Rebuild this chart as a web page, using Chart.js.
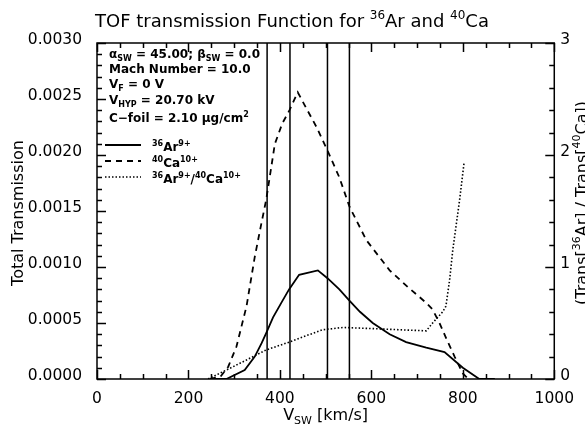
<!DOCTYPE html>
<html>
<head>
<meta charset="utf-8">
<script src="https://cdn.jsdelivr.net/npm/chart.js@4.4.1/dist/chart.umd.min.js"></script>
<style>
  html, body { margin: 0; padding: 0; background: #fff; }
  canvas { display: block; }
</style>
</head>
<body>
<canvas id="myChart" width="585" height="430" style="width:585px;height:430px"></canvas>
<script>
// 36Ar 9+ transmission (solid)
var arVel   = [250, 283, 323, 345, 360, 370, 385, 403, 420, 442, 483, 504, 530, 552, 575, 603, 640, 676, 720, 760, 800, 836, 870];
var arTrans = [0, 0, 0.00008, 0.0002, 0.00032, 0.00041, 0.00055, 0.00068, 0.0008, 0.00093, 0.00097, 0.0009, 0.0008, 0.0007, 0.0006, 0.0005, 0.0004, 0.00033, 0.00028, 0.00024, 0.0001, 0, 0];

// 40Ca 10+ transmission (dashed)
var caVel   = [247, 270, 287, 305, 327, 345, 360, 370, 389, 405, 421, 439, 460, 480, 504, 530, 552, 589, 640, 680, 720, 734, 749, 765, 782, 800, 812];
var caTrans = [0, 0.00002, 0.00011, 0.00029, 0.00065, 0.00109, 0.0014, 0.0016, 0.0021, 0.00228, 0.0024, 0.00256, 0.0024, 0.00225, 0.00204, 0.0018, 0.00154, 0.00124, 0.00097, 0.00082, 0.00068, 0.00062, 0.0005, 0.00035, 0.0002, 0.00005, 0];

// ratio Ar/Ca (dotted, right axis)
var ratioVel = [243, 283, 327, 370, 421, 460, 494, 538, 603, 660, 720, 734, 756, 763, 771, 778, 793, 803];
var ratio    = [0, 0.08, 0.17, 0.26, 0.33, 0.39, 0.44, 0.46, 0.45, 0.44, 0.43, 0.5, 0.6, 0.65, 0.88, 1.15, 1.6, 1.94];

// vertical marker lines
var markers = [372, 422, 504, 552];

// axis ranges / ticks
var xMin = 0, xMax = 1000, xStep = 200, xMinor = 50;
var yMin = 0, yMax = 0.003, yStep = 0.0005, yMinor = 0.0001;
var rMin = 0, rMax = 3, rStep = 1, rMinor = 0.2;

function pairs(xs, ys){
  return xs.map(function(x, i){ return {x: x, y: ys[i]}; });
}

var FONT = "'DejaVu Sans', sans-serif";

// draws text with sub/superscripts, parts = [[text, mode], ...]
function richText(ctx, x, y, parts, size, weight, align){
  var small = Math.round(size * 0.68);
  function setFont(mode){
    ctx.font = (weight || 'normal') + ' ' + (mode === 'n' ? size : small) + 'px ' + FONT;
  }
  var w = 0;
  parts.forEach(function(p){ setFont(p[1]); w += ctx.measureText(p[0]).width; });
  var cx = align === 'center' ? x - w / 2 : x;
  ctx.textAlign = 'left';
  ctx.textBaseline = 'alphabetic';
  parts.forEach(function(p){
    setFont(p[1]);
    var dy = p[1] === 'sup' ? -size * 0.45 : (p[1] === 'sub' ? size * 0.25 : 0);
    ctx.fillText(p[0], cx, y + dy);
    cx += ctx.measureText(p[0]).width;
  });
}

var idlFrame = {
  id: 'idlFrame',
  afterDraw: function(chart){
    var ctx = chart.ctx;
    var a = chart.chartArea;
    var sx = chart.scales.x, sy = chart.scales.y, sr = chart.scales.y1;
    ctx.save();
    ctx.strokeStyle = '#000';
    ctx.fillStyle = '#000';
    ctx.lineWidth = 1.5;
    ctx.setLineDash([]);
    ctx.strokeRect(a.left, a.top, a.right - a.left, a.bottom - a.top);

    // inward ticks
    ctx.beginPath();
    var v, p, len, i;
    for (v = xMin; v <= xMax + 1e-9; v += xMinor){
      p = Math.round(sx.getPixelForValue(v)) + 0.5;
      len = (Math.abs(v % xStep) < 1e-6) ? 9 : 5;
      ctx.moveTo(p, a.bottom); ctx.lineTo(p, a.bottom - len);
      ctx.moveTo(p, a.top); ctx.lineTo(p, a.top + len);
    }
    for (i = 0; i <= Math.round((yMax - yMin) / yMinor); i++){
      v = yMin + i * yMinor;
      p = Math.round(sy.getPixelForValue(v)) + 0.5;
      len = (i % 5 === 0) ? 9 : 5;
      ctx.moveTo(a.left, p); ctx.lineTo(a.left + len, p);
    }
    for (i = 0; i <= Math.round((rMax - rMin) / rMinor); i++){
      v = rMin + i * rMinor;
      p = Math.round(sr.getPixelForValue(v)) + 0.5;
      len = (i % 5 === 0) ? 9 : 5;
      ctx.moveTo(a.right, p); ctx.lineTo(a.right - len, p);
    }
    ctx.stroke();

    // y tick labels, IDL style: baseline sits on the tick
    ctx.font = '15.5px ' + FONT;
    ctx.textBaseline = 'alphabetic';
    ctx.textAlign = 'right';
    sy.ticks.forEach(function(t){
      ctx.fillText(t.value.toFixed(4), a.left - 15, sy.getPixelForValue(t.value) + 1);
    });
    ctx.textAlign = 'left';
    sr.ticks.forEach(function(t){
      ctx.fillText(String(t.value), a.right + 6, sr.getPixelForValue(t.value) + 1);
    });

    // title
    richText(ctx, 292, 27, [['TOF transmission Function for ', 'n'], ['36', 'sup'], ['Ar and ', 'n'], ['40', 'sup'], ['Ca', 'n']], 18, 'normal', 'center');

    // x axis title
    richText(ctx, (a.left + a.right) / 2, 420, [['V', 'n'], ['SW', 'sub'], [' [km/s]', 'n']], 16, 'normal', 'center');

    // left axis title
    ctx.save();
    ctx.translate(23, 213);
    ctx.rotate(-Math.PI / 2);
    richText(ctx, 0, 0, [['Total Transmission', 'n']], 16, 'normal', 'center');
    ctx.restore();

    // right axis title (runs off the canvas edge like the original)
    ctx.save();
    ctx.translate(587, 203);
    ctx.rotate(-Math.PI / 2);
    richText(ctx, 0, 0, [['(Trans[', 'n'], ['36', 'sup'], ['Ar] / Trans[', 'n'], ['40', 'sup'], ['Ca])', 'n']], 16, 'normal', 'center');
    ctx.restore();

    // annotation block
    var tx = 109, fs = 12, wt = 'bold';
    richText(ctx, tx, 58, [['\u03b1', 'n'], ['SW', 'sub'], [' = 45.00; ', 'n'], ['\u03b2', 'n'], ['SW', 'sub'], [' = 0.0', 'n']], fs, wt);
    richText(ctx, tx, 73, [['Mach Number = 10.0', 'n']], fs, wt);
    richText(ctx, tx, 88, [['V', 'n'], ['F', 'sub'], [' = 0 V', 'n']], fs, wt);
    richText(ctx, tx, 104, [['V', 'n'], ['HYP', 'sub'], [' = 20.70 kV', 'n']], fs, wt);
    richText(ctx, tx, 122, [['C\u2212foil = 2.10 \u03bcg/cm', 'n'], ['2', 'sup']], fs, wt);

    // legend
    var legend = [
      {y: 145, dash: [], lw: 1.8, parts: [['36', 'sup'], ['Ar', 'n'], ['9+', 'sup']]},
      {y: 161, dash: [6, 5], lw: 1.8, parts: [['40', 'sup'], ['Ca', 'n'], ['10+', 'sup']]},
      {y: 177, dash: [1.5, 2], lw: 1.6, parts: [['36', 'sup'], ['Ar', 'n'], ['9+', 'sup'], ['/', 'n'], ['40', 'sup'], ['Ca', 'n'], ['10+', 'sup']]}
    ];
    legend.forEach(function(l){
      ctx.beginPath();
      ctx.setLineDash(l.dash);
      ctx.lineWidth = l.lw;
      ctx.moveTo(105, l.y); ctx.lineTo(141, l.y);
      ctx.stroke();
      ctx.setLineDash([]);
      richText(ctx, 152, l.y + 6, l.parts, fs, wt);
    });
    ctx.restore();
  }
};

var datasets = [
  {label: 'Ar', data: pairs(arVel, arTrans), yAxisID: 'y', borderColor: '#000', borderWidth: 1.8, pointRadius: 0, fill: false},
  {label: 'Ca', data: pairs(caVel, caTrans), yAxisID: 'y', borderColor: '#000', borderWidth: 1.8, borderDash: [6, 5], pointRadius: 0, fill: false},
  {label: 'ratio', data: pairs(ratioVel, ratio), yAxisID: 'y1', borderColor: '#000', borderWidth: 1.6, borderDash: [1.5, 2], pointRadius: 0, fill: false}
];
markers.forEach(function(m){
  datasets.push({label: 'v' + m, data: [{x: m, y: yMin}, {x: m, y: yMax}], yAxisID: 'y', borderColor: '#000', borderWidth: 1.5, pointRadius: 0, fill: false});
});

var tickFont = {family: FONT, size: 15.5};

var ctx = document.getElementById('myChart').getContext('2d');
var myChart = new Chart(ctx, {
  type: 'line',
  data: {datasets: datasets},
  options: {
    responsive: false,
    animation: false,
    devicePixelRatio: 1,
    layout: {padding: {top: 43, left: 0, right: 0, bottom: 0}},
    plugins: {legend: {display: false}, tooltip: {enabled: false}, title: {display: false}},
    scales: {
      x: {
        type: 'linear', min: xMin, max: xMax,
        grid: {display: false, drawTicks: false},
        border: {display: false},
        ticks: {stepSize: xStep, color: '#000', font: tickFont, padding: 11, maxRotation: 0,
          callback: function(v){ return String(v); }},
        afterFit: function(s){ s.height = 51; }
      },
      y: {
        type: 'linear', position: 'left', min: yMin, max: yMax,
        grid: {display: false, drawTicks: false},
        border: {display: false},
        ticks: {stepSize: yStep, display: false},
        afterFit: function(s){ s.width = 97; }
      },
      y1: {
        type: 'linear', position: 'right', min: rMin, max: rMax,
        grid: {display: false, drawTicks: false},
        border: {display: false},
        ticks: {stepSize: rStep, display: false},
        afterFit: function(s){ s.width = 30; }
      }
    }
  },
  plugins: [idlFrame]
});
</script>
</body>
</html>
